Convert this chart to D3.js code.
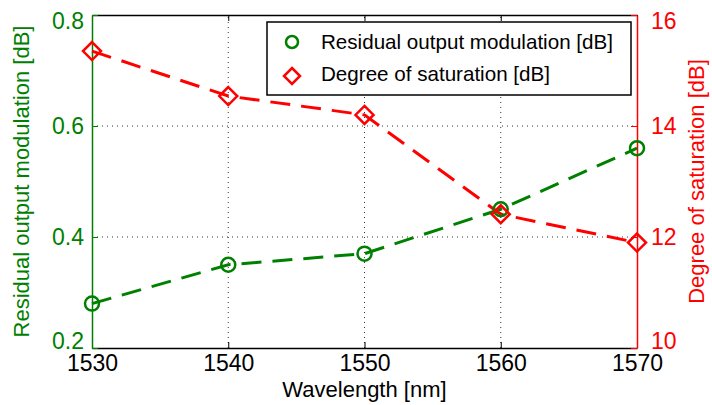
<!DOCTYPE html>
<html>
<head>
<meta charset="utf-8">
<script src="https://cdn.jsdelivr.net/npm/d3@7"></script>
<style>
body{margin:0;background:#fff;}
text{font-family:"Liberation Sans",Arial,sans-serif;}
</style>
</head>
<body>
<div id="viz-container"></div>
<script>
let width = 712;
let height = 405;
let margin = {left:92, right:75, top:15, bottom:57};

let wavelengths = [1530,1540,1550,1560,1570];
let residual = [0.28,0.35,0.37,0.45,0.56];
let saturation = [15.35,14.54,14.2,12.41,11.9];
let xTicks = [1530,1540,1550,1560,1570];
let yLeftTicks = [0.2,0.4,0.6,0.8];
let yRightTicks = [10,12,14,16];

let green = '#008000';
let red = '#ff0000';
let fontFam = 'Liberation Sans, Arial, sans-serif';

let viz = d3.select('#viz-container')
.append('svg')
.attr('width',width)
.attr('height',height);

let x = d3.scaleLinear().domain([1530,1570]).range([margin.left, width-margin.right]);
let yL = d3.scaleLinear().domain([0.2,0.8]).range([height-margin.bottom, margin.top]);
let yR = d3.scaleLinear().domain([10,16]).range([height-margin.bottom, margin.top]);

let x0 = x.range()[0], x1 = x.range()[1];
let y0 = yL.range()[0], y1 = yL.range()[1];

// grid
viz.selectAll('.vgrid').data(xTicks.slice(1,-1)).enter()
  .append('line')
  .attr('x1',d=>x(d)).attr('x2',d=>x(d))
  .attr('y1',y0).attr('y2',y1)
  .attr('stroke','#333').attr('stroke-width',1)
  .attr('stroke-dasharray','1,4');
viz.selectAll('.hgrid').data(yLeftTicks.slice(1,-1)).enter()
  .append('line')
  .attr('y1',d=>yL(d)).attr('y2',d=>yL(d))
  .attr('x1',x0).attr('x2',x1)
  .attr('stroke','#333').attr('stroke-width',1)
  .attr('stroke-dasharray','1,4');

// x axes (bottom and top), ticks inward
let xBottom = d3.axisBottom(x).tickValues(xTicks).tickSizeInner(-6).tickSizeOuter(0).tickPadding(7).tickFormat(d3.format('d'));
let gxb = viz.append('g').attr('transform','translate(0,'+y0+')').call(xBottom);
gxb.select('.domain').attr('stroke','#000').attr('stroke-width',1.5);
gxb.selectAll('text').attr('font-size',23).attr('fill','#000').attr('font-family',fontFam);

let xTop = d3.axisTop(x).tickValues(xTicks).tickSizeInner(-6).tickSizeOuter(0).tickFormat('');
let gxt = viz.append('g').attr('transform','translate(0,'+y1+')').call(xTop);
gxt.select('.domain').attr('stroke','#000').attr('stroke-width',1.5);

// end labels sit slightly inside the axis range
function nudgeEnds(g, ticks){
  g.selectAll('.tick text').attr('dy',function(d){
    if(d == ticks[0]) return '0.0em';
    if(d == ticks[ticks.length-1]) return '0.6em';
    return '0.32em';
  });
}

// left axis
let yLeftAxis = d3.axisLeft(yL).tickValues(yLeftTicks).tickSizeInner(-6).tickSizeOuter(0).tickPadding(8).tickFormat(d3.format('.1f'));
let gl = viz.append('g').attr('transform','translate('+x0+',0)').call(yLeftAxis);
gl.select('.domain').attr('stroke',green).attr('stroke-width',1.5);
gl.selectAll('line').attr('stroke',green);
gl.selectAll('text').attr('font-size',23).attr('fill',green).attr('font-family',fontFam);
nudgeEnds(gl, yLeftTicks);

// right axis
let yRightAxis = d3.axisRight(yR).tickValues(yRightTicks).tickSizeInner(-6).tickSizeOuter(0).tickPadding(14).tickFormat(d3.format('d'));
let gr = viz.append('g').attr('transform','translate('+x1+',0)').call(yRightAxis);
gr.select('.domain').attr('stroke',red).attr('stroke-width',1.5);
gr.selectAll('line').attr('stroke',red);
gr.selectAll('text').attr('font-size',23).attr('fill',red).attr('font-family',fontFam);
nudgeEnds(gr, yRightTicks);

// axis titles
viz.append('text')
  .text('Wavelength [nm]')
  .attr('x',(x0+x1)/2).attr('y',397)
  .attr('text-anchor','middle')
  .attr('font-size',22);

viz.append('text')
  .text('Residual output modulation [dB]')
  .attr('transform','translate(29,'+((y0+y1)/2)+') rotate(-90)')
  .attr('text-anchor','middle')
  .attr('font-size',22)
  .attr('fill',green);

viz.append('text')
  .text('Degree of saturation [dB]')
  .attr('transform','translate(704,'+((y0+y1)/2)+') rotate(-90)')
  .attr('text-anchor','middle')
  .attr('font-size',22)
  .attr('fill',red);

// lines
let lineL = d3.line().x((d,i)=>x(wavelengths[i])).y(d=>yL(d));
let lineR = d3.line().x((d,i)=>x(wavelengths[i])).y(d=>yR(d));

viz.append('path').datum(residual)
  .attr('d',lineL)
  .attr('fill','none').attr('stroke',green).attr('stroke-width',3)
  .attr('stroke-dasharray','20,11');

viz.append('path').datum(saturation)
  .attr('d',lineR)
  .attr('fill','none').attr('stroke',red).attr('stroke-width',3)
  .attr('stroke-dasharray','20,11');

viz.selectAll('.circ').data(residual).enter()
  .append('circle')
  .attr('cx',(d,i)=>x(wavelengths[i]))
  .attr('cy',d=>yL(d))
  .attr('r',7)
  .attr('fill','none')
  .attr('stroke',green)
  .attr('stroke-width',2.5);

let diamond = s => 'M0,'+(-s)+'L'+s+',0L0,'+s+'L'+(-s)+',0Z';
viz.selectAll('.diam').data(saturation).enter()
  .append('path')
  .attr('d',diamond(9))
  .attr('transform',(d,i)=>'translate('+x(wavelengths[i])+','+yR(d)+')')
  .attr('fill','none')
  .attr('stroke',red)
  .attr('stroke-width',2.5);

// legend
let legend = viz.append('g');
legend.append('rect')
  .attr('x',267).attr('y',22).attr('width',364).attr('height',73)
  .attr('fill','#fff').attr('stroke','#000').attr('stroke-width',1.5);
legend.append('circle')
  .attr('cx',292).attr('cy',42).attr('r',6)
  .attr('fill','none').attr('stroke',green).attr('stroke-width',2.5);
legend.append('path')
  .attr('d',diamond(8))
  .attr('transform','translate(292,76)')
  .attr('fill','none').attr('stroke',red).attr('stroke-width',2.5);
legend.append('text').text('Residual output modulation [dB]')
  .attr('x',321).attr('y',49).attr('font-size',20.6);
legend.append('text').text('Degree of saturation [dB]')
  .attr('x',321).attr('y',81).attr('font-size',20.6);
</script>
</body>
</html>
